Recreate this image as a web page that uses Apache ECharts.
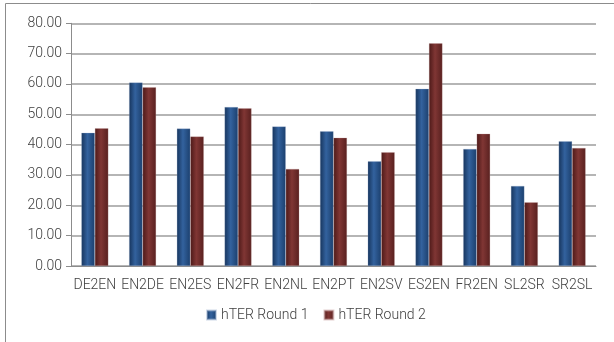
<!DOCTYPE html>
<html><head><meta charset="utf-8">
<script src="https://cdn.jsdelivr.net/npm/echarts@6/dist/echarts.min.js"></script>
<style>html,body{margin:0;padding:0;background:#fff}#c{width:614px;height:342px}</style>
</head><body><div id="c"></div>
<script>
const categories = ['DE2EN','EN2DE','EN2ES','EN2FR','EN2NL','EN2PT','EN2SV','ES2EN','FR2EN','SL2SR','SR2SL'];
const round1 = [43.9, 60.5, 45.3, 52.4, 46.0, 44.4, 34.5, 58.4, 38.6, 26.4, 41.1];
const round2 = [45.4, 58.9, 42.7, 52.0, 32.0, 42.3, 37.5, 73.4, 43.6, 21.0, 38.9];
const seriesNames = ['hTER Round 1', 'hTER Round 2'];

const FONT = 'Roboto,sans-serif';
function grad(edge, mid, edge2){
  return new echarts.graphic.LinearGradient(0,0,1,0,[
    {offset:0,color:edge},{offset:0.45,color:mid},{offset:1,color:edge2}]);
}
const txt = {fontFamily:FONT,fontSize:14,fontWeight:300,color:'#404040'};
const chart = echarts.init(document.getElementById('c'), null, {renderer:'canvas'});
chart.setOption({
  animation:false,
  graphic:[{type:'rect',shape:{x:5.5,y:3.5,width:700,height:400},
    style:{fill:'none',stroke:'#8c8c8c',lineWidth:1},silent:true}],
  grid:{left:71,right:18,top:23.3,bottom:76},
  legend:{
    data:seriesNames, bottom:15, left:201, itemWidth:9, itemHeight:9, itemGap:15,
    icon:'rect',
    textStyle:Object.assign({},txt)
  },
  xAxis:{
    type:'category', data:categories,
    axisLine:{lineStyle:{color:'#8c8c8c'}},
    axisTick:{length:4,lineStyle:{color:'#8c8c8c'}},
    axisLabel:Object.assign({margin:12,interval:0},txt)
  },
  yAxis:{
    type:'value', min:0, max:80, interval:10,
    axisLine:{show:true,lineStyle:{color:'#8c8c8c'}},
    axisTick:{show:true,length:5,lineStyle:{color:'#8c8c8c'}},
    axisLabel:Object.assign({margin:9,formatter:v=>v.toFixed(2)},txt),
    splitLine:{lineStyle:{color:'#9c9c9c',width:1.5}}
  },
  series:[
    {name:seriesNames[0],type:'bar',data:round1,barWidth:13.5,barGap:'0%',
     itemStyle:{color:grad('#16345c','#33629e','#1b3f6d'),borderColor:'rgba(160,180,210,0.5)',borderWidth:0.5}},
    {name:seriesNames[1],type:'bar',data:round2,barWidth:13.5,barGap:'0%',
     itemStyle:{color:grad('#4c1918','#803634','#58201f'),borderColor:'rgba(200,160,160,0.5)',borderWidth:0.5}}
  ]
});
</script></body></html>
